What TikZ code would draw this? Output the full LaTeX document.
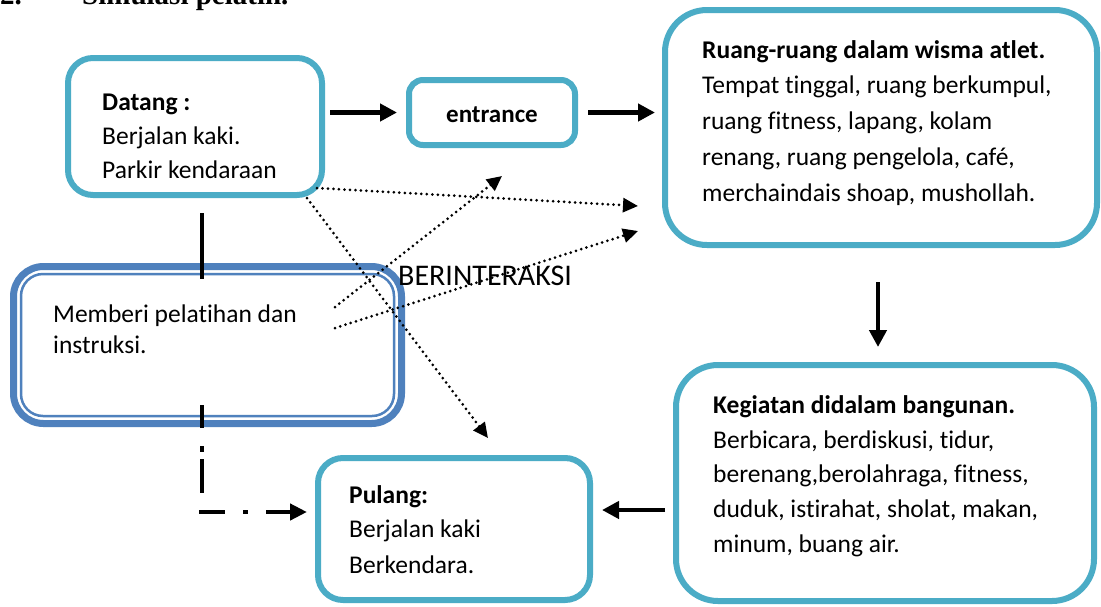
\documentclass[tikz,border=0pt]{standalone}
\usepackage{fontspec}
\setmainfont{Carlito}[Ligatures=NoCommon]
\newfontfamily\timesf{Liberation Serif}
\usetikzlibrary{arrows.meta}
\definecolor{tealc}{HTML}{4BACC6}
\definecolor{bluec}{HTML}{4F81BD}
\tikzset{
  tealbox/.style={draw=tealc, line width=6pt, fill=white, inner sep=0pt},
  txt/.style={anchor=base west, inner sep=0pt, font=\fontsize{25.5}{30}\selectfont},
  txtb/.style={anchor=base west, inner sep=0pt, font=\fontsize{25.5}{30}\selectfont\bfseries},
  tarrow/.style={line width=4.5pt, -{Triangle[length=17pt,width=17pt]}},
  dotline/.style={line width=3pt, dash pattern=on 0pt off 5.5pt, line cap=round, -{Triangle[length=15pt,width=14pt]}},
  ddline/.style={line width=4.5pt},
}
\begin{document}
\begin{tikzpicture}[x=1pt,y=-1pt]
\useasboundingbox[fill=white] (0,0) rectangle (1101,606);

% heading (cut off at top, as in the reference)
\node[anchor=base west, inner sep=0pt, font=\fontsize{29}{32}\selectfont\timesf\bfseries] (hnum) at (0,4) {2.};
\node[anchor=base west, inner sep=0pt, font=\fontsize{29}{32}\selectfont\timesf\bfseries] (htitle) at (82,4) {Simulasi pelatih.};

% boxes
\node[tealbox, rounded corners=25pt, minimum width=254pt, minimum height=137pt] (datang) at (195,126.5) {};
\node[tealbox, rounded corners=14pt, minimum width=166pt, minimum height=65pt] (entrance) at (492,112.5) {};
\node[tealbox, rounded corners=42pt, minimum width=432pt, minimum height=235pt] (ruang) at (881,127.5) {};
\node[tealbox, rounded corners=42pt, minimum width=418pt, minimum height=236pt] (kegiatan) at (885,483) {};
\node[tealbox, rounded corners=25pt, minimum width=272pt, minimum height=142pt] (pulang) at (454,529) {};
\node[draw=bluec, line width=7pt, fill=white, rounded corners=30pt, inner sep=0pt, minimum width=388pt, minimum height=157pt] (memberi) at (207.5,345) {};
\node[draw=bluec, line width=2.5pt, rounded corners=22pt, inner sep=0pt, minimum width=373pt, minimum height=142pt] (memberiin) at (207.5,345) {};

% texts
\node[txtb] (d1) at (102,110) {Datang :};
\node[txt] (d2) at (102,144) {Berjalan kaki.};
\node[txt] (d3) at (102,178) {Parkir kendaraan};

\node[anchor=base, inner sep=0pt, font=\fontsize{25}{30}\selectfont\bfseries] (e1) at (492,122) {entrance};

\node[txtb] (r1) at (702,58) {Ruang-ruang dalam wisma atlet.};
\node[txt] (r2) at (702,93) {Tempat tinggal, ruang berkumpul,};
\node[txt] (r3) at (702,129) {ruang fitness, lapang, kolam};
\node[txt] (r4) at (702,165) {renang, ruang pengelola, café,};
\node[txt] (r5) at (702,201) {merchaindais shoap, mushollah.};

\node[txt] (m1) at (53,322) {Memberi pelatihan dan};
\node[txt] (m2) at (53,353) {instruksi.};

\node[txtb] (k1) at (713,413) {Kegiatan didalam bangunan.};
\node[txt] (k2) at (713,448) {Berbicara, berdiskusi, tidur,};
\node[txt] (k3) at (713,482) {berenang,berolahraga, fitness,};
\node[txt] (k4) at (713,517) {duduk, istirahat, sholat, makan,};
\node[txt] (k5) at (713,552) {minum, buang air.};

\node[txtb] (p1) at (349,503) {Pulang:};
\node[txt] (p2) at (349,537) {Berjalan kaki};
\node[txt] (p3) at (349,573) {Berkendara.};

\node[anchor=base west, inner sep=0pt, font=\fontsize{30}{34}\selectfont] (inter) at (398,285) {BERINTERAKSI};

% thick arrows
\draw[tarrow, shorten <=5pt, shorten >=9pt] (datang.east |- entrance.west) -- (entrance.west);
\draw[tarrow, shorten <=10pt, shorten >=7pt] (entrance.east) -- (ruang.west |- entrance.east);
\draw[tarrow, shorten <=34pt, shorten >=15pt] ([xshift=-3pt]ruang.south) -- ([xshift=-3pt]ruang.south |- kegiatan.north);
\draw[tarrow, shorten <=8pt, shorten >=9pt] ([yshift=-27pt]kegiatan.west) -- ([yshift=-27pt]kegiatan.west -| pulang.east);

% solid vertical line from Datang
\coordinate (v1) at (202,213);
\coordinate (v2) at (202,279);
\draw[line width=4.5pt] (v1) -- (v2);

% dash-dot connector to Pulang
\coordinate (dd0) at (202,405);
\coordinate (ddc) at (202,512);
\coordinate (ddh) at (199,512);
\coordinate (ddend) at (307,512);
\draw[ddline, dash pattern=on 23pt off 18pt on 6pt off 7pt on 34pt off 40pt] (dd0) -- (ddc);
\draw[ddline, dash pattern=on 26pt off 18pt on 5pt off 18pt on 100pt, -{Triangle[length=17pt,width=16pt]}] (ddh) -- (ddend);

% dotted arrows
\coordinate (s1) at (317,188); \coordinate (t1) at (638,206);
\coordinate (s2) at (307,198); \coordinate (t2) at (488,438);
\coordinate (s3) at (335,307); \coordinate (t3) at (502,176);
\coordinate (s4) at (335,328); \coordinate (t4) at (638,231);
\draw[dotline] (s1) -- (t1);
\draw[dotline] (s2) -- (t2);
\draw[dotline] (s3) -- (t3);
\draw[dotline] (s4) -- (t4);
\end{tikzpicture}
\end{document}
